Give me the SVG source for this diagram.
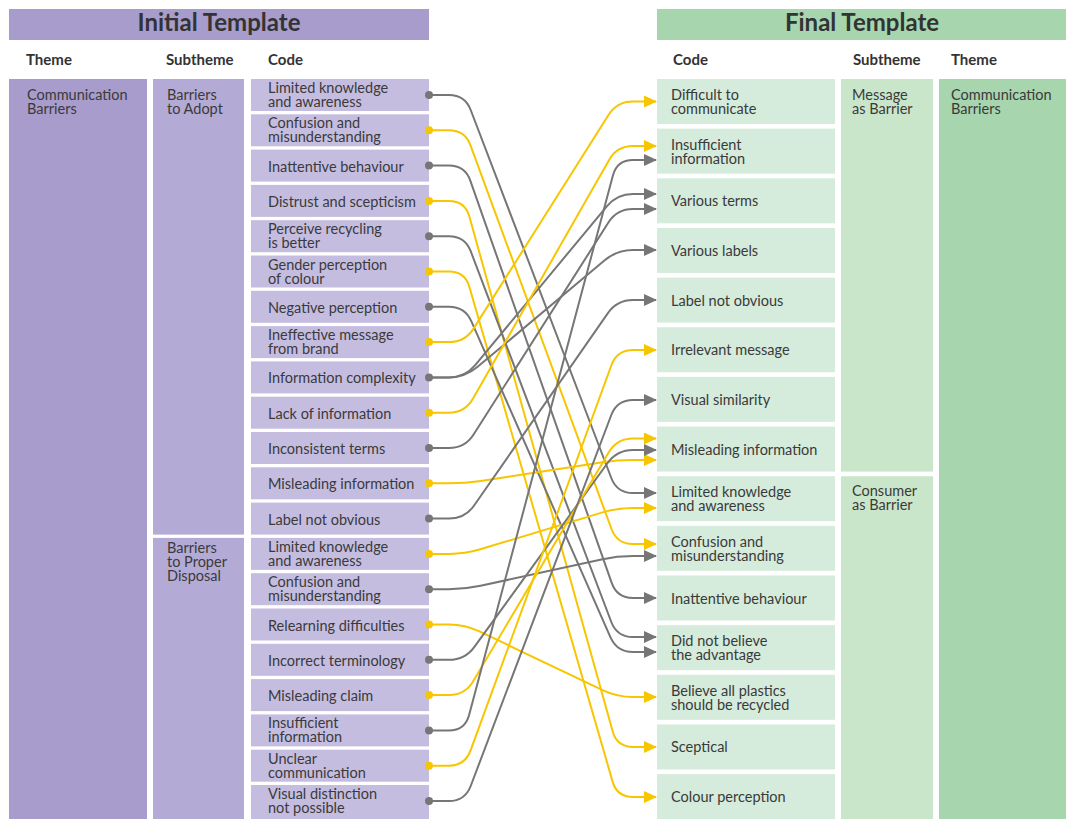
<svg xmlns="http://www.w3.org/2000/svg" width="1066" height="819" viewBox="0 0 1066 819">
<defs>
<style>
.t{font-family:Lato,"Noto Sans","Liberation Sans",sans-serif;font-size:14.5px;fill:#3a3a3a}
.h{font-family:Lato,"Noto Sans","Liberation Sans",sans-serif;font-size:24px;font-weight:bold;fill:#333;text-anchor:middle}
.ch{font-family:Lato,"Noto Sans","Liberation Sans",sans-serif;font-size:15px;font-weight:bold;fill:#333}
.pTh{fill:#a79ccc}.pSub{fill:#b4aad6}.pCode{fill:#c5bde0}
.gTh{fill:#a6d5ae}.gSub{fill:#cae6ca}.gCode{fill:#d5ebdb}
.g{fill:none;stroke:#767676;stroke-width:2}
.y{fill:none;stroke:#f7c600;stroke-width:2}
.dg{fill:#767676}.dy{fill:#f7c600}
</style>
<marker id="ag" viewBox="0 0 13 12" refX="12" refY="6" markerWidth="13" markerHeight="12" markerUnits="userSpaceOnUse" orient="auto"><path d="M0,0 L13,6 L0,12 z" fill="#767676"/></marker>
<marker id="ay" viewBox="0 0 13 12" refX="12" refY="6" markerWidth="13" markerHeight="12" markerUnits="userSpaceOnUse" orient="auto"><path d="M0,0 L13,6 L0,12 z" fill="#f7c600"/></marker>
</defs>
<rect width="1066" height="819" fill="#fff"/>

<g id="header-initial"><rect x="9" y="9" width="420" height="31" class="pTh"/><text class="h" x="219" y="31">Initial Template</text></g>
<g id="header-final"><rect x="657" y="9" width="409" height="31" class="gTh"/><text class="h" x="862" y="31">Final Template</text></g>
<g id="col-headers">
<text class="ch" x="26" y="65">Theme</text><text class="ch" x="166" y="65">Subtheme</text><text class="ch" x="268" y="65">Code</text>
<text class="ch" x="673" y="65">Code</text><text class="ch" x="853" y="65">Subtheme</text><text class="ch" x="951" y="65">Theme</text>
</g>

<g id="l-theme"><rect x="9" y="79" width="138" height="740" class="pTh"/><text class="t" x="27" y="100">Communication<tspan x="27" dy="14">Barriers</tspan></text></g>
<g id="l-sub-adopt"><rect x="153" y="79" width="91" height="455.6" class="pSub"/><text class="t" x="167" y="100">Barriers<tspan x="167" dy="14">to Adopt</tspan></text></g>
<g id="l-sub-disposal"><rect x="153" y="537.9" width="91" height="281.1" class="pSub"/><text class="t" x="167" y="553">Barriers<tspan x="167" dy="14">to Proper</tspan><tspan x="167" dy="14">Disposal</tspan></text></g>

<g id="l0"><rect x="251" y="79" width="178" height="32" class="pCode"/><text class="t" x="268" y="93">Limited knowledge<tspan x="268" dy="14">and awareness</tspan></text></g>
<g id="l1"><rect x="251" y="114.3" width="178" height="32" class="pCode"/><text class="t" x="268" y="128.3">Confusion and<tspan x="268" dy="14">misunderstanding</tspan></text></g>
<g id="l2"><rect x="251" y="149.6" width="178" height="32" class="pCode"/><text class="t" x="268" y="171.6">Inattentive behaviour</text></g>
<g id="l3"><rect x="251" y="184.9" width="178" height="32" class="pCode"/><text class="t" x="268" y="206.9">Distrust and scepticism</text></g>
<g id="l4"><rect x="251" y="220.2" width="178" height="32" class="pCode"/><text class="t" x="268" y="234.2">Perceive recycling<tspan x="268" dy="14">is better</tspan></text></g>
<g id="l5"><rect x="251" y="255.5" width="178" height="32" class="pCode"/><text class="t" x="268" y="269.5">Gender perception<tspan x="268" dy="14">of colour</tspan></text></g>
<g id="l6"><rect x="251" y="290.8" width="178" height="32" class="pCode"/><text class="t" x="268" y="312.8">Negative perception</text></g>
<g id="l7"><rect x="251" y="326.1" width="178" height="32" class="pCode"/><text class="t" x="268" y="340.1">Ineffective message<tspan x="268" dy="14">from brand</tspan></text></g>
<g id="l8"><rect x="251" y="361.4" width="178" height="32" class="pCode"/><text class="t" x="268" y="383.4">Information complexity</text></g>
<g id="l9"><rect x="251" y="396.7" width="178" height="32" class="pCode"/><text class="t" x="268" y="418.7">Lack of information</text></g>
<g id="l10"><rect x="251" y="432" width="178" height="32" class="pCode"/><text class="t" x="268" y="454">Inconsistent terms</text></g>
<g id="l11"><rect x="251" y="467.3" width="178" height="32" class="pCode"/><text class="t" x="268" y="489.3">Misleading information</text></g>
<g id="l12"><rect x="251" y="502.6" width="178" height="32" class="pCode"/><text class="t" x="268" y="524.6">Label not obvious</text></g>
<g id="l13"><rect x="251" y="537.9" width="178" height="32" class="pCode"/><text class="t" x="268" y="551.9">Limited knowledge<tspan x="268" dy="14">and awareness</tspan></text></g>
<g id="l14"><rect x="251" y="573.2" width="178" height="32" class="pCode"/><text class="t" x="268" y="587.2">Confusion and<tspan x="268" dy="14">misunderstanding</tspan></text></g>
<g id="l15"><rect x="251" y="608.5" width="178" height="32" class="pCode"/><text class="t" x="268" y="630.5">Relearning difficulties</text></g>
<g id="l16"><rect x="251" y="643.8" width="178" height="32" class="pCode"/><text class="t" x="268" y="665.8">Incorrect terminology</text></g>
<g id="l17"><rect x="251" y="679.1" width="178" height="32" class="pCode"/><text class="t" x="268" y="701.1">Misleading claim</text></g>
<g id="l18"><rect x="251" y="714.4" width="178" height="32" class="pCode"/><text class="t" x="268" y="728.4">Insufficient<tspan x="268" dy="14">information</tspan></text></g>
<g id="l19"><rect x="251" y="749.7" width="178" height="32" class="pCode"/><text class="t" x="268" y="763.7">Unclear<tspan x="268" dy="14">communication</tspan></text></g>
<g id="l20"><rect x="251" y="785" width="178" height="34" class="pCode"/><text class="t" x="268" y="799">Visual distinction<tspan x="268" dy="14">not possible</tspan></text></g>

<g id="r-theme"><rect x="939" y="79" width="127" height="740" class="gTh"/><text class="t" x="951" y="100">Communication<tspan x="951" dy="14">Barriers</tspan></text></g>
<g id="r-sub-message"><rect x="841" y="79" width="92" height="392.6" class="gSub"/><text class="t" x="852" y="100">Message<tspan x="852" dy="14">as Barrier</tspan></text></g>
<g id="r-sub-consumer"><rect x="841" y="476.2" width="92" height="342.8" class="gSub"/><text class="t" x="852" y="496">Consumer<tspan x="852" dy="14">as Barrier</tspan></text></g>

<g id="r0"><rect x="657" y="79" width="178" height="45" class="gCode"/><text class="t" x="671" y="100">Difficult to<tspan x="671" dy="14">communicate</tspan></text></g>
<g id="r1"><rect x="657" y="128.65" width="178" height="45" class="gCode"/><text class="t" x="671" y="149.65">Insufficient<tspan x="671" dy="14">information</tspan></text></g>
<g id="r2"><rect x="657" y="178.3" width="178" height="45" class="gCode"/><text class="t" x="671" y="206.3">Various terms</text></g>
<g id="r3"><rect x="657" y="227.95" width="178" height="45" class="gCode"/><text class="t" x="671" y="255.95">Various labels</text></g>
<g id="r4"><rect x="657" y="277.6" width="178" height="45" class="gCode"/><text class="t" x="671" y="305.6">Label not obvious</text></g>
<g id="r5"><rect x="657" y="327.25" width="178" height="45" class="gCode"/><text class="t" x="671" y="355.25">Irrelevant message</text></g>
<g id="r6"><rect x="657" y="376.9" width="178" height="45" class="gCode"/><text class="t" x="671" y="404.9">Visual similarity</text></g>
<g id="r7"><rect x="657" y="426.55" width="178" height="45" class="gCode"/><text class="t" x="671" y="454.55">Misleading information</text></g>
<g id="r8"><rect x="657" y="476.2" width="178" height="45" class="gCode"/><text class="t" x="671" y="497.2">Limited knowledge<tspan x="671" dy="14">and awareness</tspan></text></g>
<g id="r9"><rect x="657" y="525.85" width="178" height="45" class="gCode"/><text class="t" x="671" y="546.85">Confusion and<tspan x="671" dy="14">misunderstanding</tspan></text></g>
<g id="r10"><rect x="657" y="575.5" width="178" height="45" class="gCode"/><text class="t" x="671" y="603.5">Inattentive behaviour</text></g>
<g id="r11"><rect x="657" y="625.15" width="178" height="45" class="gCode"/><text class="t" x="671" y="646.15">Did not believe<tspan x="671" dy="14">the advantage</tspan></text></g>
<g id="r12"><rect x="657" y="674.8" width="178" height="45" class="gCode"/><text class="t" x="671" y="695.8">Believe all plastics<tspan x="671" dy="14">should be recycled</tspan></text></g>
<g id="r13"><rect x="657" y="724.45" width="178" height="45" class="gCode"/><text class="t" x="671" y="752.45">Sceptical</text></g>
<g id="r14"><rect x="657" y="774.1" width="178" height="45" class="gCode"/><text class="t" x="671" y="802.1">Colour perception</text></g>

<g id="connectors">
<path class="g" marker-end="url(#ag)" d="M429,95 H449 Q465,95 470.7,110 L611.3,478 Q617,493 633,493 H656"/>
<path class="y" marker-end="url(#ay)" d="M429,130.3 H449 Q465,130.3 470.5,145.3 L611.5,529 Q617,544 633,544 H656"/>
<path class="g" marker-end="url(#ag)" d="M429,165.6 H449 Q465,165.6 470.3,180.7 L611.7,582.9 Q617,598 633,598 H656"/>
<path class="y" marker-end="url(#ay)" d="M429,200.9 H449 Q465,200.9 469.3,216.3 L612.7,731.6 Q617,747 633,747 H656"/>
<path class="g" marker-end="url(#ag)" d="M429,236.2 H449 Q465,236.2 470.7,251.2 L611.3,622 Q617,637 633,637 H656"/>
<path class="y" marker-end="url(#ay)" d="M429,271.5 H449 Q465,271.5 469.4,286.9 L612.6,781.6 Q617,797 633,797 H656"/>
<path class="g" marker-end="url(#ag)" d="M429,306.8 H449 Q465,306.8 471.4,321.4 L610.5,637.4 Q617,652 633,652 H656"/>
<path class="y" marker-end="url(#ay)" d="M429,342.1 H449 Q465,342.1 473.5,328.6 L608.5,115 Q617,101.5 633,101.5 H656"/>
<path class="g" marker-end="url(#ag)" d="M429,377.4 H449 Q465,377.4 475.2,365.1 L606.8,206.3 Q617,194 633,194 H656"/>
<path class="g" marker-end="url(#ag)" d="M429,377.4 H449 Q465,377.4 477.3,367.1 L604.7,260.3 Q617,250 633,250 H656"/>
<path class="y" marker-end="url(#ay)" d="M429,412.7 H449 Q465,412.7 472.9,398.8 L609.1,159.9 Q617,146 633,146 H656"/>
<path class="g" marker-end="url(#ag)" d="M429,448 H449 Q465,448 473.6,434.5 L608.4,222.5 Q617,209 633,209 H656"/>
<path class="y" marker-end="url(#ay)" d="M429,483.3 H449 Q465,483.3 480.8,480.9 L601.2,462.4 Q617,460 633,460 H656"/>
<path class="g" marker-end="url(#ag)" d="M429,518.6 H449 Q465,518.6 474.1,505.5 L607.9,313.1 Q617,300 633,300 H656"/>
<path class="y" marker-end="url(#ay)" d="M429,553.9 H449 Q465,553.9 480.3,549.3 L601.7,512.6 Q617,508 633,508 H656"/>
<path class="g" marker-end="url(#ag)" d="M429,589.2 H449 Q465,589.2 480.6,585.8 L601.4,559.4 Q617,556 633,556 H656"/>
<path class="y" marker-end="url(#ay)" d="M429,624.5 H449 Q465,624.5 479.4,631.4 L602.6,690.1 Q617,697 633,697 H656"/>
<path class="g" marker-end="url(#ag)" d="M429,659.8 H449 Q465,659.8 474.4,646.8 L607.6,463 Q617,450 633,450 H656"/>
<path class="y" marker-end="url(#ay)" d="M429,695.1 H449 Q465,695.1 473.2,681.3 L608.8,452.3 Q617,438.5 633,438.5 H656"/>
<path class="g" marker-end="url(#ag)" d="M429,730.4 H449 Q465,730.4 469.1,714.9 L612.9,175.5 Q617,160 633,160 H656"/>
<path class="y" marker-end="url(#ay)" d="M429,765.7 H449 Q465,765.7 470.5,750.7 L611.5,365 Q617,350 633,350 H656"/>
<path class="g" marker-end="url(#ag)" d="M429,801 H449 Q465,801 470.7,786 L611.3,415 Q617,400 633,400 H656"/>
<circle class="dg" cx="429" cy="95" r="4"/><circle class="dy" cx="429" cy="130.3" r="4"/>
<circle class="dg" cx="429" cy="165.6" r="4"/><circle class="dy" cx="429" cy="200.9" r="4"/>
<circle class="dg" cx="429" cy="236.2" r="4"/><circle class="dy" cx="429" cy="271.5" r="4"/>
<circle class="dg" cx="429" cy="306.8" r="4"/><circle class="dy" cx="429" cy="342.1" r="4"/>
<circle class="dg" cx="429" cy="377.4" r="4"/><circle class="dy" cx="429" cy="412.7" r="4"/>
<circle class="dg" cx="429" cy="448" r="4"/><circle class="dy" cx="429" cy="483.3" r="4"/>
<circle class="dg" cx="429" cy="518.6" r="4"/><circle class="dy" cx="429" cy="553.9" r="4"/>
<circle class="dg" cx="429" cy="589.2" r="4"/><circle class="dy" cx="429" cy="624.5" r="4"/>
<circle class="dg" cx="429" cy="659.8" r="4"/><circle class="dy" cx="429" cy="695.1" r="4"/>
<circle class="dg" cx="429" cy="730.4" r="4"/><circle class="dy" cx="429" cy="765.7" r="4"/>
<circle class="dg" cx="429" cy="801" r="4"/>
</g>
</svg>
